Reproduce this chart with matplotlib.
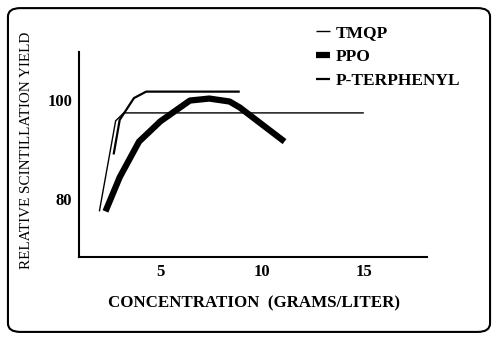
import matplotlib
matplotlib.use("Agg")
import matplotlib.pyplot as plt
from matplotlib.patches import FancyBboxPatch

tmqp_x = [2.0, 2.8, 3.2, 15.0]
tmqp_y = [77.5, 95.8, 97.4, 97.4]
terph_x = [2.7, 3.0, 3.7, 4.3, 8.9]
terph_y = [89.0, 96.0, 100.4, 101.7, 101.7]
ppo_x = [2.3, 3.0, 3.95, 5.0, 6.45, 7.4, 8.4, 8.9, 11.1]
ppo_y = [77.5, 84.4, 91.6, 95.7, 99.9, 100.3, 99.7, 98.5, 91.6]

xticks = [5, 10, 15]
yticks = [80, 100]

serif = "Liberation Serif"
fig = plt.figure(figsize=(4.97, 3.38), dpi=100)
ax = fig.add_axes([0.159, 0.240, 0.700, 0.606])

l1, = ax.plot(tmqp_x, tmqp_y, color="black", lw=1.0, solid_capstyle="butt", label="TMQP")
l2, = ax.plot(ppo_x, ppo_y, color="black", lw=4.5, solid_capstyle="butt", solid_joinstyle="round", label="PPO")
l3, = ax.plot(terph_x, terph_y, color="black", lw=1.6, solid_capstyle="butt", label="P-TERPHENYL")

ax.set_xlim(1.0, 18.1)
ax.set_ylim(68.3, 109.7)
ax.set_xticks(xticks)
ax.set_yticks(yticks)
ax.tick_params(length=0, pad=5)
for lab in ax.get_xticklabels() + ax.get_yticklabels():
    lab.set_fontfamily(serif)
    lab.set_fontweight("bold")
    lab.set_fontsize(12)
for s in ["top", "right"]:
    ax.spines[s].set_visible(False)
for s in ["left", "bottom"]:
    ax.spines[s].set_linewidth(1.5)

fig.text(0.5115, 0.102, "CONCENTRATION  (GRAMS/LITER)", fontfamily=serif,
         fontweight="bold", fontsize=12.2, ha="center", va="center")
fig.text(0.054, 0.555, "RELATIVE SCINTILLATION YIELD", fontfamily=serif,
         fontsize=10.9, rotation=90, ha="center", va="center")

leg = fig.legend(handles=[l1, l2, l3], loc="upper left", bbox_to_anchor=(0.622, 0.948),
                 frameon=False, handlelength=0.8, handletextpad=0.35, labelspacing=0.45,
                 borderaxespad=0, borderpad=0.4,
                 prop={"family": serif, "weight": "bold", "size": 12.5})

border = FancyBboxPatch((0.016, 0.018), 0.97, 0.958, boxstyle="round,pad=0,rounding_size=0.025",
                        transform=fig.transFigure, fill=False, lw=1.5, ec="black")
fig.patches.append(border)

fig.savefig("out.png", dpi=100)
